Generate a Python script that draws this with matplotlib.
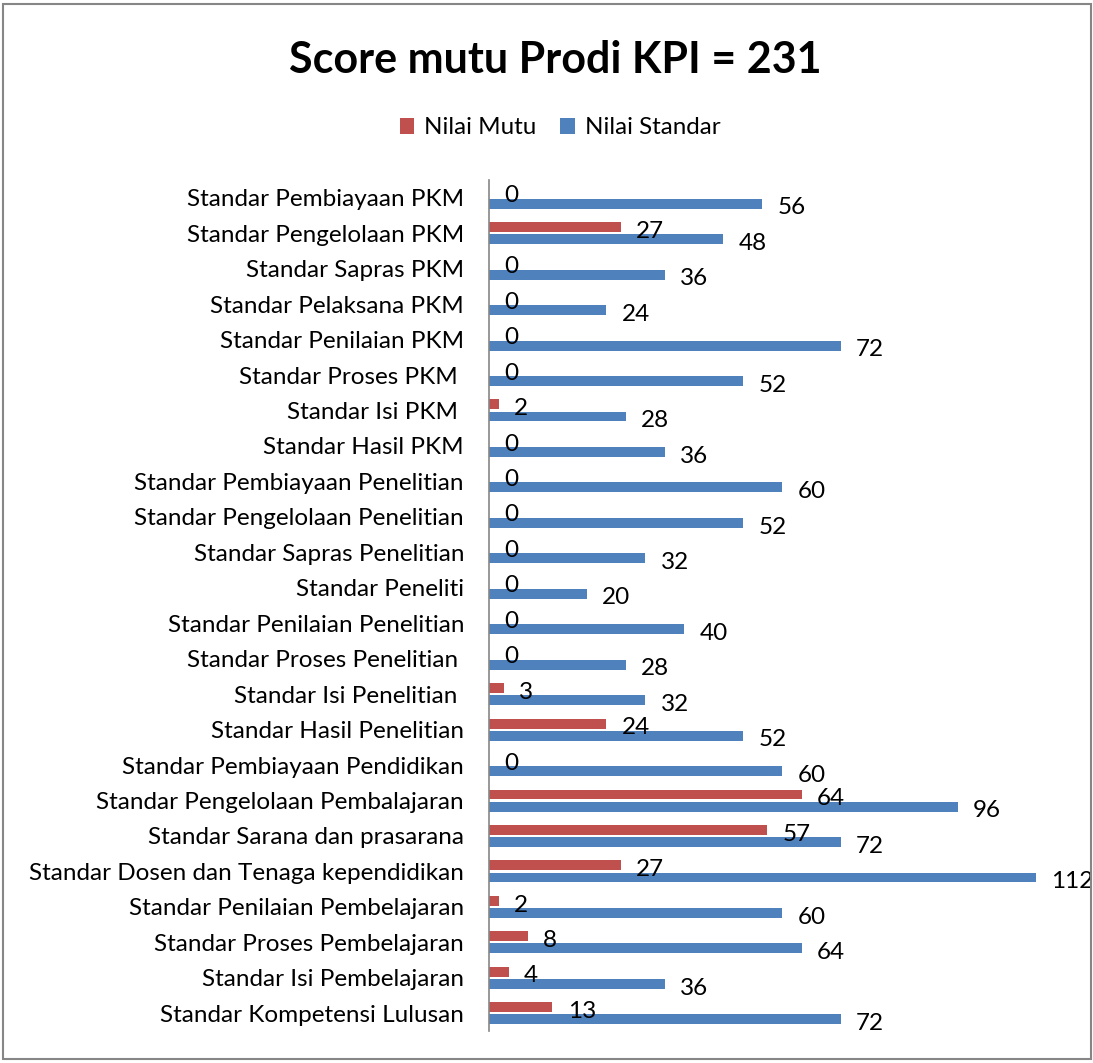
import matplotlib
matplotlib.use("Agg")
import matplotlib.pyplot as plt
from matplotlib.patches import Rectangle

plt.rcParams['font.family'] = ['Lato', 'DejaVu Sans']

# categories listed bottom to top
categories = [
    "Standar Kompetensi Lulusan",
    "Standar Isi Pembelajaran",
    "Standar Proses Pembelajaran",
    "Standar Penilaian Pembelajaran",
    "Standar Dosen dan Tenaga kependidikan",
    "Standar Sarana dan prasarana",
    "Standar Pengelolaan Pembalajaran",
    "Standar Pembiayaan Pendidikan",
    "Standar Hasil Penelitian",
    "Standar Isi Penelitian ",
    "Standar Proses Penelitian ",
    "Standar Penilaian Penelitian",
    "Standar Peneliti",
    "Standar Sapras Penelitian",
    "Standar Pengelolaan Penelitian",
    "Standar Pembiayaan Penelitian",
    "Standar Hasil PKM",
    "Standar Isi PKM ",
    "Standar Proses PKM ",
    "Standar Penilaian PKM",
    "Standar Pelaksana PKM",
    "Standar Sapras PKM",
    "Standar Pengelolaan PKM",
    "Standar Pembiayaan PKM",
]
nilai_mutu = [13, 4, 8, 2, 27, 57, 64, 0, 24, 3, 0, 0, 0, 0, 0, 0,
              0, 2, 0, 0, 0, 0, 27, 0]
nilai_standar = [72, 36, 64, 60, 112, 72, 96, 60, 52, 32, 28, 40, 20, 32, 52, 60,
                 36, 28, 52, 72, 24, 36, 48, 56]

red = "#C0504D"
blue = "#4F81BD"

W, H = 1093, 1063
fig = plt.figure(figsize=(W / 100, H / 100), dpi=100)

# chart frame
fig.patches.append(Rectangle((3 / W, 4 / H), 1088 / W, 1055 / H, transform=fig.transFigure,
                             fill=False, edgecolor="#868686", linewidth=1.5))

ax = fig.add_axes([489 / W, 1 - 1031 / H, 586 / W, 851 / H])

ypos = list(range(len(categories)))
bh = 0.28
off = 0.17
bars_m = ax.barh([y + off for y in ypos], nilai_mutu, height=bh, color=red, label="Nilai Mutu")
bars_s = ax.barh([y - off for y in ypos], nilai_standar, height=bh, color=blue, label="Nilai Standar")

for bars in (bars_m, bars_s):
    for b in bars:
        w = b.get_width()
        ax.annotate(f"{w:g}", (w, b.get_y() + b.get_height() / 2),
                    xytext=(11, -3), textcoords="offset points",
                    ha="left", va="center", fontsize=17.5)

ax.set_xlim(0, 120)
ax.set_ylim(-0.5, len(categories) - 0.5)
ax.set_yticks(ypos)
ax.set_yticklabels(categories, fontsize=17.5)
ax.tick_params(axis="y", length=0, pad=18)
ax.set_xticks([])
for s in ("top", "right", "bottom"):
    ax.spines[s].set_visible(False)
ax.spines["left"].set_color("#868686")
ax.spines["left"].set_linewidth(1.2)

fig.text(555 / W, 1 - 60 / H, "Score mutu Prodi KPI = 231", ha="center", va="center",
         fontsize=31, fontweight="bold")

fig.legend(handles=[bars_m, bars_s], loc="center", bbox_to_anchor=(560 / W, 1 - 128 / H),
           ncol=2, frameon=False, fontsize=17.4, handlelength=0.6, handleheight=0.6,
           handletextpad=0.4, columnspacing=1.0)

fig.savefig("out.png", dpi=100)
